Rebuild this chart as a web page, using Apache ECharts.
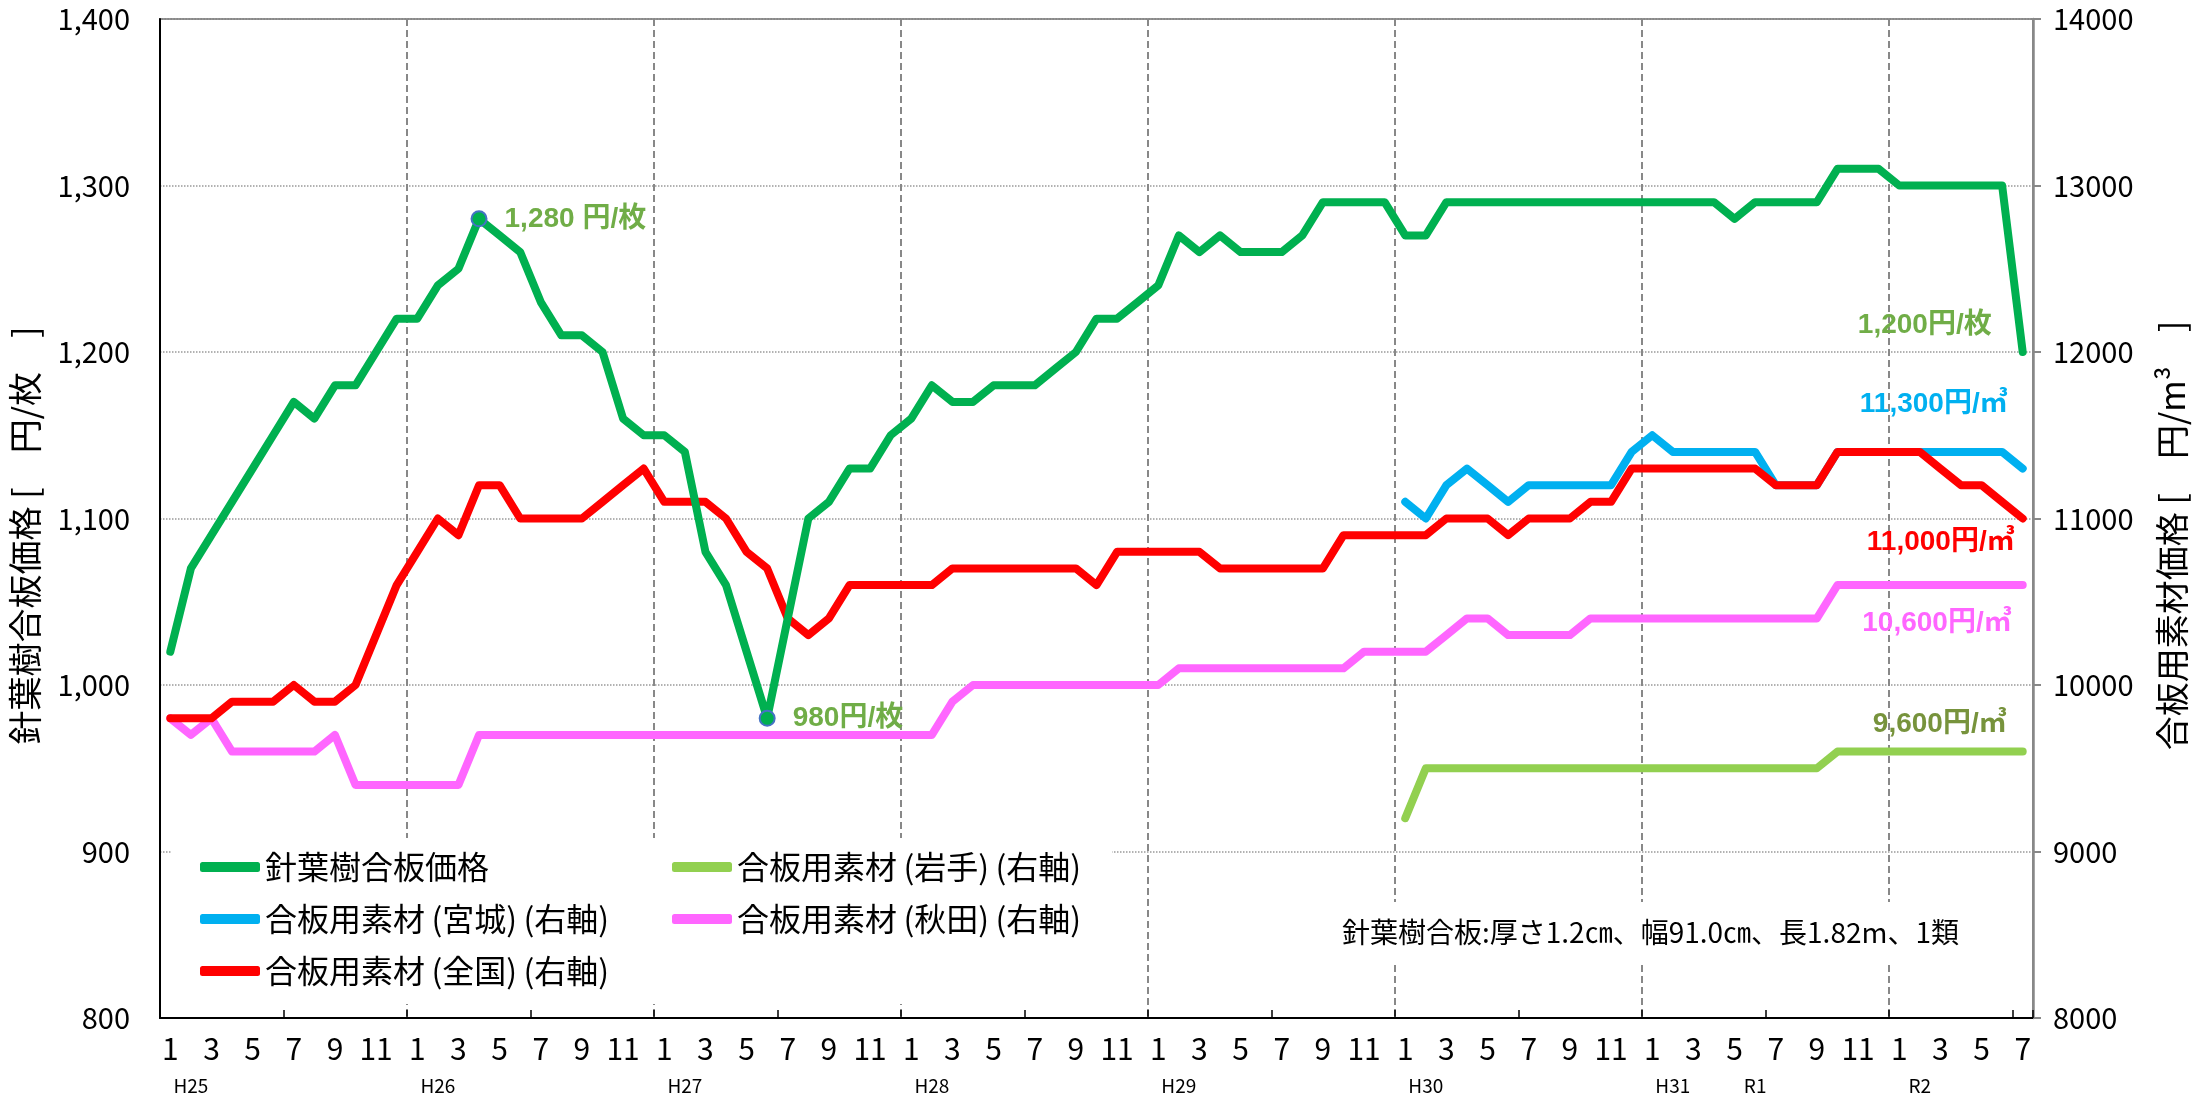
<!DOCTYPE html>
<html>
<head>
<meta charset="utf-8">
<script src="https://cdn.jsdelivr.net/npm/echarts@6/dist/echarts.min.js"></script>
<style>
  html, body { margin: 0; padding: 0; background: #fff; }
  #chart { width: 2197px; height: 1104px; }
</style>
</head>
<body>
<div id="chart"></div>
<script>
// 月 (H25.1 〜 R2.7)
const firstYear = 2013
const monthCount = 91
const cats = []
for (let i = 0; i < monthCount; i++) {
  cats.push((firstYear + Math.floor(i / 12)) + '/' + (i % 12 + 1))
}
// 年ラベル
const yearLabels = ['H25', 'H26', 'H27', 'H28', 'H29', 'H30', 'H31', 'R1', 'R2']
const yearLabelAt = ['2013/2', '2014/2', '2015/2', '2016/2', '2017/2', '2018/2', '2019/2', '2019/6', '2020/2']

// 針葉樹合板価格 [円/枚] (左軸)
const plywood = [
  1020, 1070, 1090, 1110, 1130, 1150, 1170, 1160, 1180, 1180, 1200, 1220,
  1220, 1240, 1250, 1280, 1270, 1260, 1230, 1210, 1210, 1200, 1160, 1150,
  1150, 1140, 1080, 1060, 1020, 980, 1040, 1100, 1110, 1130, 1130, 1150,
  1160, 1180, 1170, 1170, 1180, 1180, 1180, 1190, 1200, 1220, 1220, 1230,
  1240, 1270, 1260, 1270, 1260, 1260, 1260, 1270, 1290, 1290, 1290, 1290,
  1270, 1270, 1290, 1290, 1290, 1290, 1290, 1290, 1290, 1290, 1290, 1290,
  1290, 1290, 1290, 1290, 1280, 1290, 1290, 1290, 1290, 1310, 1310, 1310,
  1300, 1300, 1300, 1300, 1300, 1300, 1200
]
// 合板用素材(全国) [円/m3] (右軸)
const logNational = [
  9800, 9800, 9800, 9900, 9900, 9900, 10000, 9900, 9900, 10000, 10300, 10600,
  10800, 11000, 10900, 11200, 11200, 11000, 11000, 11000, 11000, 11100, 11200, 11300,
  11100, 11100, 11100, 11000, 10800, 10700, 10400, 10300, 10400, 10600, 10600, 10600,
  10600, 10600, 10700, 10700, 10700, 10700, 10700, 10700, 10700, 10600, 10800, 10800,
  10800, 10800, 10800, 10700, 10700, 10700, 10700, 10700, 10700, 10900, 10900, 10900,
  10900, 10900, 11000, 11000, 11000, 10900, 11000, 11000, 11000, 11100, 11100, 11300,
  11300, 11300, 11300, 11300, 11300, 11300, 11200, 11200, 11200, 11400, 11400, 11400,
  11400, 11400, 11300, 11200, 11200, 11100, 11000
]
const none12 = [null, null, null, null, null, null, null, null, null, null, null, null]
// 合板用素材(宮城)
const logMiyagi = [].concat(none12, none12, none12, none12, none12, [
  11100, 11000, 11200, 11300, 11200, 11100, 11200, 11200, 11200, 11200, 11200, 11400,
  11500, 11400, 11400, 11400, 11400, 11400, 11200, 11200, 11200, 11400, 11400, 11400,
  11400, 11400, 11400, 11400, 11400, 11400, 11300
])
// 合板用素材(秋田)
const logAkita = [
  9800, 9700, 9800, 9600, 9600, 9600, 9600, 9600, 9700, 9400, 9400, 9400,
  9400, 9400, 9400, 9700, 9700, 9700, 9700, 9700, 9700, 9700, 9700, 9700,
  9700, 9700, 9700, 9700, 9700, 9700, 9700, 9700, 9700, 9700, 9700, 9700,
  9700, 9700, 9900, 10000, 10000, 10000, 10000, 10000, 10000, 10000, 10000, 10000,
  10000, 10100, 10100, 10100, 10100, 10100, 10100, 10100, 10100, 10100, 10200, 10200,
  10200, 10200, 10300, 10400, 10400, 10300, 10300, 10300, 10300, 10400, 10400, 10400,
  10400, 10400, 10400, 10400, 10400, 10400, 10400, 10400, 10400, 10600, 10600, 10600,
  10600, 10600, 10600, 10600, 10600, 10600, 10600
]
// 合板用素材(岩手)
const logIwate = [].concat(none12, none12, none12, none12, none12, [
  9200, 9500, 9500, 9500, 9500, 9500, 9500, 9500, 9500, 9500, 9500, 9500,
  9500, 9500, 9500, 9500, 9500, 9500, 9500, 9500, 9500, 9600, 9600, 9600,
  9600, 9600, 9600, 9600, 9600, 9600, 9600
])

const peakIdx = 15   // H26.4
const dipIdx = 29    // H27.6
const lastIdx = monthCount - 1

const NUM_FONT = "'Liberation Sans Narrow', 'Noto Sans CJK JP', sans-serif"
const LBL_FONT = "'Liberation Sans', 'Noto Sans CJK JP', sans-serif"
const JP_FONT = "'Noto Sans CJK JP', sans-serif"

const fmt = v => v.toLocaleString('en-US')

const nmPly = '針葉樹合板価格'
const nmMiyagi = '合板用素材\u2009(宮城)\u2009(右軸)'
const nmNational = '合板用素材\u2009(全国)\u2009(右軸)'
const nmIwate = '合板用素材\u2009(岩手)\u2009(右軸)'
const nmAkita = '合板用素材\u2009(秋田)\u2009(右軸)'

function endLabel(series, text, color, dx, dy) {
  return {
    coord: [lastIdx, series[lastIdx]],
    value: series[lastIdx],
    symbol: 'circle',
    symbolSize: 1,
    itemStyle: { color: 'rgba(0,0,0,0)' },
    label: {
      show: true,
      position: 'inside',
      align: 'right',
      verticalAlign: 'middle',
      offset: [dx, dy],
      formatter: text,
      color: color,
      fontSize: 28,
      fontWeight: 'bold',
      fontFamily: LBL_FONT
    }
  }
}

function dotLabel(series, idx, sep) {
  return {
    coord: [idx, series[idx]],
    value: series[idx],
    symbol: 'circle',
    symbolSize: 15,
    itemStyle: { color: '#00b050', borderColor: '#4472c4', borderWidth: 2 },
    label: {
      show: true,
      position: 'right',
      distance: 17,
      formatter: p => fmt(p.value) + sep + '円/枚',
      color: '#70ad47',
      fontSize: 28,
      fontWeight: 'bold',
      fontFamily: LBL_FONT
    }
  }
}

const lineOf = (name, data, color, axis, mark) => ({
  name: name,
  type: 'line',
  yAxisIndex: axis,
  data: data,
  showSymbol: false,
  symbol: 'none',
  connectNulls: false,
  color: color,
  lineStyle: { width: 8, color: color, cap: 'round', join: 'round' },
  emphasis: { disabled: true },
  markPoint: { silent: true, animation: false, data: mark }
})

const legendText = { fontSize: 32, lineHeight: 32, fontFamily: JP_FONT, color: '#000' }

const chart = echarts.init(document.getElementById('chart'))
const option = {
  animation: false,
  backgroundColor: '#fff',
  grid: {
    left: 154, right: 162, top: 19, bottom: 86,
    show: true, borderColor: '#888', borderWidth: 2, backgroundColor: 'transparent'
  },
  legend: [
    {
      data: [nmPly, nmMiyagi, nmNational],
      orient: 'vertical', left: 200, top: 851, padding: 0,
      icon: 'roundRect', itemWidth: 60, itemHeight: 10, itemGap: 20,
      selectedMode: false,
      textStyle: legendText
    },
    {
      data: [nmIwate, nmAkita],
      orient: 'vertical', left: 672, top: 851, padding: 0,
      icon: 'roundRect', itemWidth: 60, itemHeight: 10, itemGap: 20,
      selectedMode: false,
      textStyle: legendText
    }
  ],
  xAxis: [
    {
      type: 'category',
      data: cats,
      boundaryGap: true,
      axisLine: { lineStyle: { color: '#000', width: 2 } },
      axisTick: { show: true, inside: true, length: 8, interval: 5, lineStyle: { color: '#000', width: 1.5 } },
      axisLabel: {
        interval: 1,
        formatter: v => v.split('/')[1],
        fontSize: 30, margin: 16, color: '#000', fontFamily: NUM_FONT
      },
      splitLine: { show: true, interval: 11, lineStyle: { type: [7, 4], color: '#888', width: 2 } }
    },
    {
      type: 'category',
      data: cats,
      position: 'bottom',
      boundaryGap: true,
      axisLine: { show: false },
      axisTick: { show: false },
      splitLine: { show: false },
      axisLabel: {
        interval: 0,
        formatter: v => {
          const k = yearLabelAt.indexOf(v)
          return k >= 0 ? yearLabels[k] : ''
        },
        fontSize: 19, margin: 58, color: '#000', fontFamily: NUM_FONT
      }
    }
  ],
  yAxis: [
    {
      type: 'value',
      position: 'left',
      min: 800, max: 1400, interval: 100,
      axisLine: { show: true, lineStyle: { color: '#000', width: 2 } },
      axisTick: { show: false },
      axisLabel: { formatter: v => fmt(v), fontSize: 29, margin: 30, color: '#000', fontFamily: NUM_FONT },
      splitLine: { show: true, lineStyle: { type: 'dotted', color: '#999', width: 1.5 } },
      name: '針葉樹合板価格 [　円/枚　]　',
      nameLocation: 'middle',
      nameGap: 118,
      nameTextStyle: { fontSize: 34, fontFamily: JP_FONT, color: '#000' }
    },
    {
      type: 'value',
      position: 'right',
      min: 8000, max: 14000, interval: 1000,
      axisLine: { show: true, lineStyle: { color: '#888', width: 2.5 } },
      axisTick: { show: true, length: 8, lineStyle: { color: '#888', width: 2 } },
      axisLabel: { formatter: v => String(v), fontSize: 29, margin: 20, color: '#000', fontFamily: NUM_FONT },
      splitLine: { show: false },
      name: '合板用素材価格 [　円/m³　]　',
      nameLocation: 'middle',
      nameRotate: 90,
      nameGap: 122,
      nameTextStyle: { fontSize: 34, fontFamily: JP_FONT, color: '#000' }
    }
  ],
  graphic: [
    {
      type: 'rect', left: 172, top: 838, z: 3, silent: true,
      shape: { width: 940, height: 166 },
      style: { fill: '#fff' }
    },
    {
      type: 'text', left: 1336, top: 902, z: 3, silent: true,
      style: {
        text: '針葉樹合板:厚さ1.2㎝、幅91.0㎝、長1.82m、1類',
        font: "28px 'Liberation Sans Narrow', 'Noto Sans CJK JP', sans-serif",
        fill: '#000', backgroundColor: '#fff', padding: [16, 6]
      }
    }
  ],
  series: [
    lineOf(nmAkita, logAkita, '#ff66ff', 1,
      [endLabel(logAkita, '10,600円/㎥', '#ff66ff', -11, 38)]),
    lineOf(nmIwate, logIwate, '#92d050', 1,
      [endLabel(logIwate, '9,600円/㎥', '#77933c', -16, -27)]),
    lineOf(nmMiyagi, logMiyagi, '#00b0f0', 1,
      [endLabel(logMiyagi, '11,300円/㎥', '#00b0f0', -15, -64)]),
    lineOf(nmNational, logNational, '#ff0000', 1,
      [endLabel(logNational, '11,000円/㎥', '#ff0000', -8, 24)]),
    lineOf(nmPly, plywood, '#00b050', 0,
      [dotLabel(plywood, peakIdx, ' '), dotLabel(plywood, dipIdx, ''),
       endLabel(plywood, '1,200円/枚', '#70ad47', -31, -27)])
  ]
}
chart.setOption(option)
window.addEventListener('resize', () => chart.resize())
</script>
</body>
</html>
